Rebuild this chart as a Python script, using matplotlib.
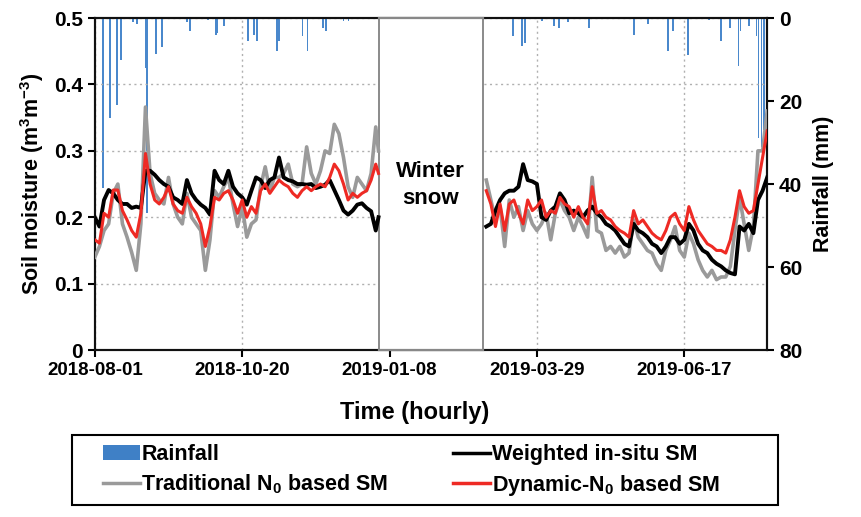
import numpy as np
import matplotlib
matplotlib.use('Agg')
import matplotlib.pyplot as plt
from matplotlib.patches import Patch, Rectangle
from matplotlib.lines import Line2D

plt.rcParams['font.family'] = ['Liberation Sans', 'DejaVu Sans']
plt.rcParams['font.weight'] = 'bold'
plt.rcParams['mathtext.fontset'] = 'custom'
plt.rcParams['mathtext.rm'] = 'Liberation Sans:bold'
plt.rcParams['mathtext.bf'] = 'Liberation Sans:bold'

start = '2018-08-01'
end = '2019-08-01'
gap_start = '2019-01-02T12'
gap_end = '2019-02-28'
tick_dates = ['2018-08-01', '2018-10-20', '2019-01-08', '2019-03-29', '2019-06-17']

# days since 2018-08-01
days1 = [0, 2.5, 5, 7.5, 10, 12.5, 15, 17.5, 20, 22.5, 25, 27.5, 30, 32.5, 35, 37.5,
         40, 42.5, 45, 47.5, 50, 52.5, 55, 57.5, 60, 62.5, 65, 67.5, 70, 72.5, 75, 77.5,
         80, 82.5, 85, 87.5, 90, 92.5, 95, 97.5, 100, 102.5, 105, 107.5, 110, 112.5,
         115, 117.5, 120, 122.5, 125, 127.5, 130, 132.5, 135, 137.5, 140, 142.5, 145,
         147.5, 150, 152.5, 154]
insitu1 = [0.200, 0.186, 0.226, 0.241, 0.236, 0.226, 0.220, 0.220, 0.214, 0.216, 0.214,
           0.270, 0.270, 0.264, 0.256, 0.250, 0.246, 0.230, 0.226, 0.220, 0.256, 0.236,
           0.226, 0.219, 0.214, 0.204, 0.270, 0.256, 0.250, 0.270, 0.246, 0.236, 0.230,
           0.219, 0.240, 0.260, 0.256, 0.244, 0.256, 0.260, 0.290, 0.260, 0.256, 0.254,
           0.250, 0.250, 0.249, 0.250, 0.244, 0.246, 0.249, 0.256, 0.241, 0.226, 0.210,
           0.204, 0.210, 0.219, 0.221, 0.214, 0.209, 0.180, 0.200]
trad1 = [0.140, 0.156, 0.180, 0.190, 0.236, 0.250, 0.190, 0.170, 0.147, 0.120, 0.190,
         0.366, 0.266, 0.236, 0.226, 0.220, 0.260, 0.220, 0.200, 0.190, 0.236, 0.200,
         0.190, 0.180, 0.120, 0.166, 0.240, 0.230, 0.246, 0.260, 0.220, 0.186, 0.216,
         0.170, 0.190, 0.196, 0.246, 0.276, 0.240, 0.260, 0.260, 0.266, 0.280, 0.250,
         0.246, 0.250, 0.306, 0.266, 0.250, 0.270, 0.300, 0.296, 0.340, 0.326, 0.290,
         0.246, 0.230, 0.260, 0.250, 0.240, 0.266, 0.336, 0.300]
dyn1 = [0.166, 0.161, 0.206, 0.200, 0.241, 0.241, 0.210, 0.196, 0.180, 0.170, 0.206,
        0.296, 0.250, 0.226, 0.220, 0.230, 0.246, 0.220, 0.210, 0.206, 0.230, 0.216,
        0.206, 0.190, 0.156, 0.186, 0.230, 0.226, 0.236, 0.240, 0.226, 0.206, 0.226,
        0.200, 0.216, 0.206, 0.240, 0.250, 0.236, 0.246, 0.256, 0.250, 0.246, 0.236,
        0.230, 0.240, 0.246, 0.240, 0.246, 0.250, 0.246, 0.260, 0.280, 0.270, 0.250,
        0.226, 0.236, 0.230, 0.236, 0.240, 0.256, 0.280, 0.266]

days2 = [212.5, 215, 217.5, 220, 222.5, 225, 227.5, 230, 232.5, 235, 237.5, 240, 242.5,
         245, 247.5, 250, 252.5, 255, 257.5, 260, 262.5, 265, 267.5, 270, 272.5, 275,
         277.5, 280, 282.5, 285, 287.5, 290, 292.5, 295, 297.5, 300, 302.5, 305, 307.5,
         310, 312.5, 315, 317.5, 320, 322.5, 325, 327.5, 330, 332.5, 335, 337.5, 340,
         342.5, 345, 347.5, 350, 352.5, 355, 357.5, 360, 362.5, 365]
insitu2 = [0.186, 0.190, 0.210, 0.226, 0.236, 0.240, 0.240, 0.246, 0.280, 0.256, 0.254,
           0.250, 0.200, 0.196, 0.210, 0.216, 0.236, 0.226, 0.206, 0.210, 0.206, 0.200,
           0.210, 0.216, 0.206, 0.200, 0.190, 0.186, 0.180, 0.170, 0.160, 0.156,
           0.190, 0.180, 0.176, 0.170, 0.160, 0.156, 0.146, 0.156, 0.170, 0.170, 0.160,
           0.166, 0.190, 0.180, 0.160, 0.150, 0.146, 0.136, 0.130, 0.126, 0.120, 0.116,
           0.114, 0.186, 0.180, 0.190, 0.176, 0.226, 0.240, 0.260]
trad2 = [0.256, 0.226, 0.196, 0.216, 0.156, 0.226, 0.200, 0.216, 0.180, 0.210, 0.190,
         0.180, 0.190, 0.206, 0.166, 0.206, 0.226, 0.210, 0.200, 0.180, 0.200, 0.186,
         0.170, 0.260, 0.180, 0.176, 0.150, 0.156, 0.146, 0.156, 0.140, 0.146,
         0.196, 0.170, 0.160, 0.150, 0.146, 0.130, 0.120, 0.150, 0.166, 0.186, 0.150,
         0.140, 0.176, 0.160, 0.136, 0.120, 0.110, 0.120, 0.106, 0.110, 0.110, 0.126,
         0.180, 0.230, 0.190, 0.150, 0.186, 0.300, 0.300, 0.360]
dyn2 = [0.240, 0.220, 0.186, 0.220, 0.180, 0.220, 0.226, 0.206, 0.190, 0.226, 0.210,
        0.216, 0.226, 0.200, 0.210, 0.206, 0.230, 0.220, 0.216, 0.200, 0.216, 0.200,
        0.190, 0.246, 0.206, 0.210, 0.200, 0.196, 0.186, 0.180, 0.176, 0.170,
        0.210, 0.190, 0.196, 0.186, 0.176, 0.170, 0.166, 0.180, 0.200, 0.206, 0.190,
        0.180, 0.216, 0.196, 0.180, 0.170, 0.160, 0.156, 0.150, 0.150, 0.146, 0.166,
        0.200, 0.240, 0.216, 0.206, 0.210, 0.250, 0.290, 0.330]

rain_days = [4.4, 8.2, 12.0, 14.1, 20.7, 22.9, 27.8, 28.3, 33.2, 36.5, 46.3, 50.1, 51.7,
             61.5, 65.9, 66.4, 70.2, 83.3, 86.5, 88.2, 99.0, 100.1, 112.7, 115.4, 124.1,
             125.7, 135.0, 137.7, 222.6, 226.9, 231.8, 233.5, 242.7, 249.3, 252.0, 256.9,
             268.3, 292.8, 300.4, 311.3, 314.0, 322.2, 333.6, 340.1, 345.0, 349.4, 350.5,
             355.3, 359.2, 360.3, 361.9, 363.5]
rain_mm = [41, 24, 21, 10, 1, 1.5, 12, 47, 8.7, 7, 0.3, 1, 3,
           0.5, 4, 3.5, 2, 5.5, 4, 5.5, 8, 5.5, 4.3, 8, 2.3,
           3, 0.7, 0.7, 0.3, 4.3, 6.7, 6, 0.7, 1.9, 2.3, 1,
           2.3, 4, 1.5, 8, 3, 9, 0.5, 5.5, 2.3, 11.5, 3,
           2, 4.3, 29, 31, 27]


def to_dates(d):
    hours = (np.array(d) * 24).round().astype(int).astype('timedelta64[h]')
    return np.datetime64(start + 'T00') + hours


fig = plt.figure(figsize=(8.62, 5.17), dpi=100)
ax = fig.add_axes([0.110, 0.323, 0.780, 0.642])
ax2 = ax.twinx()
ax.set_zorder(ax2.get_zorder() + 1)
ax.patch.set_visible(False)

ax2.bar(to_dates(rain_days), rain_mm, width=1.0, color='#4a88cc', linewidth=0)
ax2.set_ylim(80, 0)
ax2.set_yticks([0, 20, 40, 60, 80])

for d, ins, tr, dy in [(days1, insitu1, trad1, dyn1), (days2, insitu2, trad2, dyn2)]:
    x = to_dates(d)
    ax.plot(x, tr, color='#9a9a9a', lw=2.6, zorder=4)
    ax.plot(x, ins, color='black', lw=2.8, zorder=5)
    ax.plot(x, dy, color='#ee2a24', lw=2.2, zorder=6)

g0, g1 = np.datetime64(gap_start), np.datetime64(gap_end)
ax.axvspan(g0, g1, facecolor='white', edgecolor='#777777', linewidth=1.2, zorder=3)
ax.plot([g0, g1], [0, 0], color='#888888', lw=1.6, zorder=8, clip_on=False)
ax.plot([g0, g1], [0.5, 0.5], color='#888888', lw=1.6, zorder=8, clip_on=False)
ax.text(np.datetime64('2019-01-30T06'), 0.249, 'Winter\nsnow', ha='center', va='center',
        fontsize=16, fontweight='bold', zorder=7, linespacing=1.4)

ax.set_xlim(np.datetime64(start), np.datetime64(end))
ax.set_ylim(0, 0.5)
ax.set_yticks([0, 0.1, 0.2, 0.3, 0.4, 0.5])
ax.set_yticklabels(['0', '0.1', '0.2', '0.3', '0.4', '0.5'])
ax.set_xticks([np.datetime64(t) for t in tick_dates])
ax.set_xticklabels(tick_dates)
ax.grid(True, color='#b0b0b0', linestyle=(0, (1.5, 2.5)), linewidth=1.0, zorder=1)

for a in (ax, ax2):
    for s in a.spines.values():
        s.set_linewidth(1.5)
        s.set_color('#111111')
    a.tick_params(width=1.5, length=5, direction='out')
    a.tick_params(axis='y', labelsize=15)
ax.tick_params(axis='x', labelsize=13.5)

ax.set_ylabel('Soil moisture (m$^{3}$m$^{-3}$)', fontsize=15.5, fontweight='bold', labelpad=6)
ax2.set_ylabel('Rainfall (mm)', fontsize=15.5, fontweight='bold', labelpad=8)
fig.text(415 / 862, 1 - 413 / 517, 'Time (hourly)', ha='center', va='center',
         fontsize=17, fontweight='bold')

handles = [Patch(facecolor='#3f80c6', edgecolor='none'),
           Line2D([], [], color='#9a9a9a', lw=2.5),
           Line2D([], [], color='black', lw=2.5),
           Line2D([], [], color='#ee2a24', lw=2.5)]
labels = ['Rainfall', 'Traditional N$_0$ based SM',
          'Weighted in-situ SM', 'Dynamic-N$_0$ based SM']
leg = fig.legend(handles, labels, ncol=2, loc='center left',
                 bbox_to_anchor=(103 / 862, 1 - 471 / 517),
                 fontsize=15.5, frameon=False,
                 handlelength=1.7, handletextpad=0.08, borderpad=0,
                 columnspacing=3.0, labelspacing=0.35, borderaxespad=0)
for t in leg.get_texts():
    t.set_fontweight('bold')
fig.add_artist(Rectangle((72 / 862, 1 - 505 / 517), 706 / 862, 70 / 517,
                         transform=fig.transFigure, fill=False,
                         edgecolor='black', linewidth=1.5))

fig.savefig('out.png', dpi=100)
